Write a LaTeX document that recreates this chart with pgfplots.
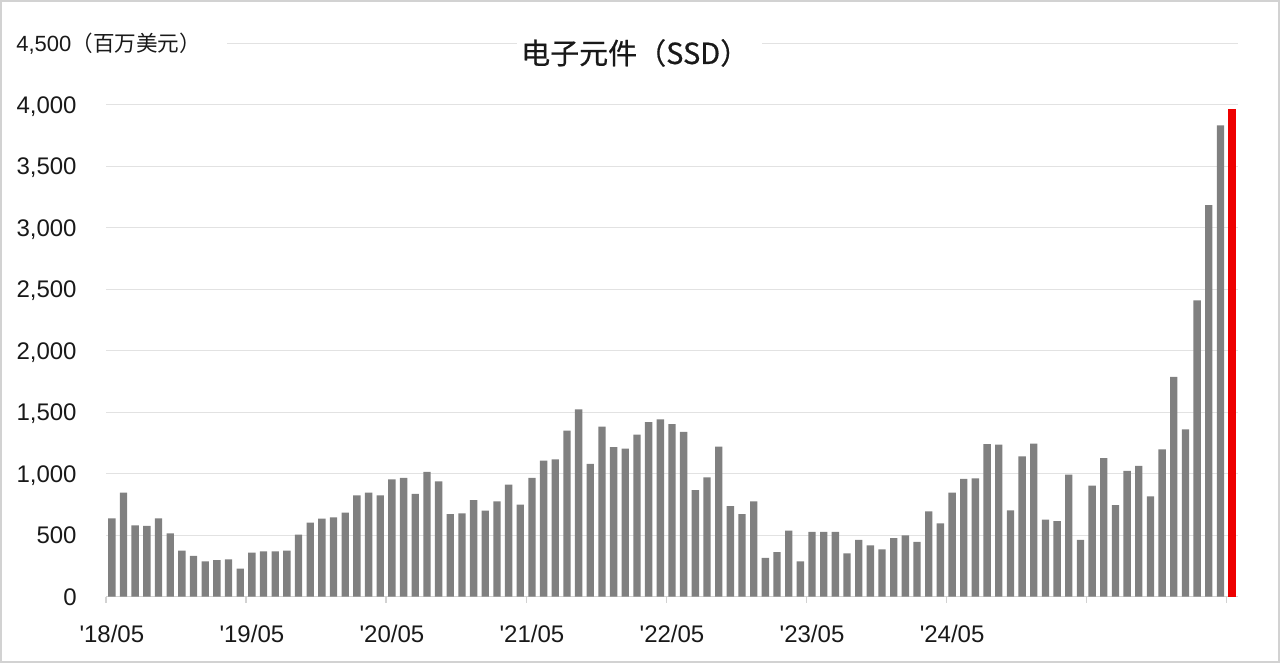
\documentclass[border=0pt]{standalone}
\usepackage{pgfplots}
\usepackage{pgfplotstable}
\pgfplotsset{compat=1.18}
\usepackage{fontspec}
\setmainfont{Liberation Sans}[Ligatures=TeXOff]
\newfontfamily\cjk{Noto Sans CJK SC}
\newfontfamily\cjkt{Noto Sans CJK SC}[FakeBold=0.6]
\definecolor{bargray}{RGB}{128,128,128}
\definecolor{gridgray}{RGB}{226,226,226}
\definecolor{framegray}{RGB}{210,210,210}
\definecolor{barred}{RGB}{238,0,0}

\pgfplotstableread{
idx val
0 637
1 846
2 580
3 575
4 637
5 515
6 374
7 331
8 288
9 298
10 304
11 228
12 358
13 369
14 369
15 374
16 504
17 602
18 634
19 645
20 683
21 824
22 846
23 824
24 954
25 965
26 835
27 1014
28 938
29 672
30 678
31 786
32 699
33 775
34 911
35 748
36 965
37 1106
38 1117
39 1350
40 1523
41 1079
42 1382
43 1215
44 1203
45 1317
46 1420
47 1442
48 1404
49 1339
50 867
51 971
52 1220
53 737
54 672
55 775
56 315
57 363
58 537
59 288
60 526
61 526
62 526
63 353
64 461
65 418
66 385
67 477
68 499
69 445
70 694
71 597
72 846
73 957
74 961
75 1241
76 1236
77 701
78 1141
79 1244
80 627
81 615
82 993
83 461
84 902
85 1126
86 745
87 1023
88 1064
89 816
90 1197
91 1788
92 1360
93 2409
94 3184
95 3831
}\graydata

\pgfplotstableread{
idx val
96 3967
}\reddata

\begin{document}
\begin{tikzpicture}
\useasboundingbox (0,0) rectangle (640pt,331.5pt);
\begin{axis}[
  at={(53pt,33.15pt)}, anchor=south west,
  scale only axis, width=566pt, height=276.75pt,
  xmin=-0.5, xmax=96.5, ymin=0, ymax=4500,
  axis x line*=bottom, axis y line*=left,
  x axis line style={draw=framegray, line width=0.6pt},
  y axis line style={draw=none},
  ytick={0,500,...,4500},
  yticklabels={0,500,{1,000},{1,500},{2,000},{2,500},{3,000},{3,500},{4,000},{}},
  ymajorgrids, grid style={draw=gridgray, line width=0.5pt},
  ytick style={draw=none},
  yticklabel style={anchor=base east, inner sep=0pt, xshift=-11.5pt, yshift=-4.4pt, font=\fontsize{12}{12}\selectfont, text=black!90},
  xtick={-0.5,11.5,...,95.5},
  xticklabels={'18/05,'19/05,'20/05,'21/05,'22/05,'23/05,'24/05,{},{}},
  tick align=outside, major tick length=3pt,
  xtick style={draw=framegray, line width=0.6pt},
  xticklabel style={anchor=base, inner sep=0pt, xshift=2.92pt, yshift=-20pt, font=\fontsize{12}{12}\selectfont, text=black!90},
  clip=false,
]
\addplot[ybar, bar width=0.63, bar shift=0pt, fill=bargray, draw=none] table[x=idx, y=val] {\graydata};
\addplot[ybar, bar width=0.63, bar shift=0pt, fill=barred, draw=none] table[x=idx, y=val] {\reddata};
\end{axis}
% frame
\draw[framegray, line width=1.2pt] (0.6pt,0.6pt) rectangle (639.4pt,330.9pt);
% unit label over 4500 gridline
\fill[white] (50pt,302pt) rectangle (113.5pt,318pt);
\node[anchor=base west, inner sep=0pt, text=black!90] at (8pt,305.5pt) {\fontsize{11}{11}\selectfont 4,500{\cjk\fontsize{10.8}{11}\selectfont （百万美元）}};
% title
\fill[white] (258.3pt,300pt) rectangle (380.8pt,318pt);
\node[anchor=base, inner sep=0pt, text=black!90] at (317.6pt,299.5pt) {\cjkt\fontsize{14.5}{14.5}\selectfont 电子元件（SSD）};
\end{tikzpicture}
\end{document}
